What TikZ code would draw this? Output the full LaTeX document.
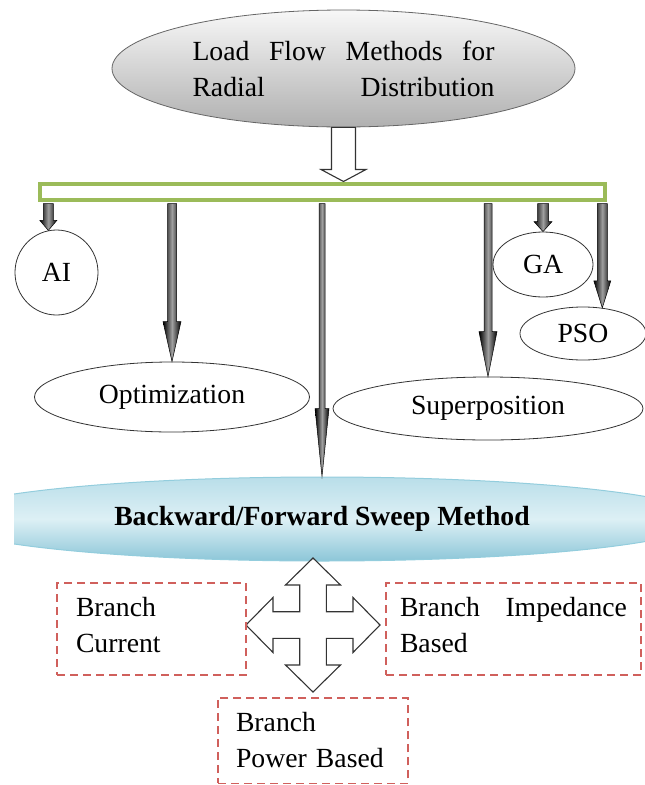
\documentclass[tikz,border=0pt]{standalone}
\usepackage{fontspec}
\setmainfont{Liberation Serif}
\usetikzlibrary{shapes.geometric,calc}

\definecolor{bargreen}{HTML}{9BBB59}
\definecolor{boxred}{HTML}{D0605C}
\definecolor{bfstop}{HTML}{B9DEE9}
\definecolor{bfsmid}{HTML}{DDF0F5}
\definecolor{bfsbot}{HTML}{8CC6D8}
\definecolor{bfsline}{HTML}{93CDDD}

% solid down arrow from the bar to #1: shaft half, head half, head length
\newcommand{\fatarr}[4]{%
  \path[fat] let \p1=($(bar.south -| #1)+(0,-2pt)$), \p2=(#1) in
    (\x2-#2,\y1) -- (\x2+#2,\y1) -- (\x2+#2,\y2+#4) -- (\x2+#3,\y2+#4)
    -- (\x2,\y2) -- (\x2-#3,\y2+#4) -- (\x2-#2,\y2+#4) -- cycle;}

\begin{document}
\begin{tikzpicture}[
  x=1pt, y=-1pt,
  font=\fontsize{27.7}{36}\selectfont,
  oval/.style={ellipse, draw=black!80, line width=0.8pt, inner sep=0pt, align=center},
  fat/.style={left color=black, right color=black, middle color=gray!75, draw=black, line width=0.5pt},
  hollow/.style={draw=black!80, line width=1.1pt, fill=white, line join=miter},
  dbox/.style={draw=boxred, dash pattern=on 8pt off 5pt, line width=1.5pt,
               align=left, text width=#1}
]
\useasboundingbox (0,0) rectangle (645,785);
\clip (0,0) rectangle (645,785);

\node[oval, minimum width=463, minimum height=117, draw=gray!80!black,
      top color=gray!6, bottom color=gray!62] (top) at (343.5,68.5)
  {\makebox[302pt][s]{Load Flow Methods for}\\ \makebox[302pt][s]{Radial Distribution}};
\node[draw=bargreen, line width=4pt, minimum width=565.5, minimum height=16, inner sep=0pt]
  (bar) at (322.25,191.5) {};
\draw[hollow] let \p1=(top.south), \p2=(bar.north) in
  (\x1-12pt,\y1) -- (\x1+12pt,\y1) -- (\x1+12pt,\y2+12pt) -- (\x1+22.5pt,\y2+12pt)
  -- (\x1,\y2) -- (\x1-22.5pt,\y2+12pt) -- (\x1-12pt,\y2+12pt) -- cycle;

\node[oval, minimum width=83, minimum height=85] (ai) at (56.5,272.5) {AI};
\node[oval, minimum width=275, minimum height=70] (opt) at (172,397) {Optimization};
\node[oval, minimum width=100, minimum height=65] (ga) at (543,264.5) {GA};
\node[oval, minimum width=126, minimum height=53] (pso) at (583,333.5) {PSO};
\node[oval, minimum width=310, minimum height=63] (sup) at (488,408.5) {Superposition};

\begin{scope}
\clip (14,0) rectangle (645,785);
\node[ellipse, minimum width=766, minimum height=84, draw=bfsline, line width=1pt,
      top color=bfstop, bottom color=bfsbot, middle color=bfsmid,
      font=\fontsize{27.7}{36}\selectfont\bfseries] (bfs) at (322,519)
  {Backward/Forward Sweep Method};
\end{scope}

\foreach \t/\s/\h/\l in {ai.101/5pt/8.5pt/10pt, opt.north/4.5pt/9pt/40pt,
    bfs.north/3pt/7pt/68pt, sup.north/4pt/9pt/45pt, ga.north/5.5pt/9pt/10pt,
    pso.53/5pt/8.5pt/27pt}
  {\fatarr{\t}{\s}{\h}{\l}}

% four way arrow under the sweep method
\coordinate (hub) at (313,625);
\draw[hollow, shift={(hub)}]
  (0,-67) -- (27.5,-40) -- (13.3,-40) -- (13.3,-13.3) -- (40,-13.3) -- (40,-27.5)
  -- (67,0) -- (40,27.5) -- (40,13.3) -- (13.3,13.3) -- (13.3,40) -- (27.5,40)
  -- (0,67) -- (-27.5,40) -- (-13.3,40) -- (-13.3,13.3) -- (-40,13.3) -- (-40,27.5)
  -- (-67,0) -- (-40,-27.5) -- (-40,-13.3) -- (-13.3,-13.3) -- (-13.3,-40)
  -- (-27.5,-40) -- cycle;

\node[dbox=151pt, minimum height=92, inner xsep=19pt, text depth=44pt] (bc) at (151.5,629)
  {Branch\\Current};
\node[dbox=227pt, minimum height=92, inner xsep=14pt, text depth=44pt] (bi) at (513.5,629)
  {\makebox[227pt][s]{Branch\hfill Impedance}\\Based};
\node[dbox=154pt, inner xsep=18pt, inner ysep=15pt, anchor=north] (bp) at (313,697)
  {Branch\\Power Based};
\end{tikzpicture}
\end{document}
